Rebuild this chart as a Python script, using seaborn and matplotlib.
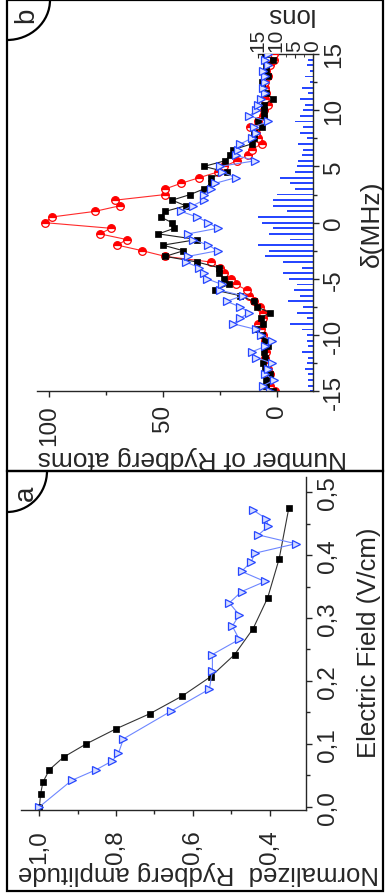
import matplotlib
matplotlib.use('Agg')
import matplotlib.pyplot as plt
import seaborn as sns
from matplotlib import font_manager
from matplotlib.patches import Rectangle, Arc

# (a) Rydberg amplitude vs electric field
field_sq = [0.0, 0.02, 0.039, 0.059, 0.079, 0.100, 0.124, 0.148, 0.176, 0.207,
            0.242, 0.283, 0.332, 0.394, 0.474]
amp_sq = [1.0, 0.997, 0.991, 0.974, 0.937, 0.878, 0.800, 0.712, 0.628, 0.553,
          0.491, 0.443, 0.405, 0.375, 0.350]
field_tri = [0.0, 0.042, 0.059, 0.073, 0.085, 0.108, 0.152, 0.187, 0.216, 0.242,
             0.266, 0.287, 0.305, 0.324, 0.342, 0.358, 0.374, 0.389, 0.403, 0.418,
             0.432, 0.446, 0.458, 0.471]
amp_tri = [1.0, 0.916, 0.852, 0.810, 0.794, 0.781, 0.657, 0.557, 0.549, 0.549,
           0.479, 0.497, 0.479, 0.505, 0.473, 0.412, 0.473, 0.448, 0.438, 0.332,
           0.429, 0.403, 0.409, 0.442]
amp_ticks = [1.0, 0.8, 0.6, 0.4]
amp_labels = ['1,0', '0,8', '0,6', '0,4']
field_ticks = [0.0, 0.1, 0.2, 0.3, 0.4, 0.5]
field_labels = ['0,0', '0,1', '0,2', '0,3', '0,4', '0,5']

# (b) spectra vs detuning
delta = [-15.0, -14.5, -14.0, -13.5, -13.0, -12.5, -12.0, -11.5, -11.0, -10.5,
         -10.0, -9.5, -9.0, -8.5, -8.0, -7.5, -7.0, -6.5, -6.0, -5.5,
         -5.0, -4.5, -4.0, -3.5, -3.0, -2.5, -2.0, -1.5, -1.0, -0.5,
         0.0, 0.5, 1.0, 1.5, 2.0, 2.5, 3.0, 3.5, 4.0, 4.5,
         5.0, 5.5, 6.0, 6.5, 7.0, 7.5, 8.0, 8.5, 9.0, 9.5,
         10.0, 10.5, 11.0, 11.5, 12.0, 12.5, 13.0, 13.5, 14.0, 14.5, 15.0]
black_n = [1.5, 4.5, 4.5, 3.0, 5.0, 6.0, 5.0, 5.5, 4.0, 5.0,
           6.5, 9.0, 6.0, 7.0, 3.0, 8.5, 10.0, 16.0, 27.0, 21.0,
           23.0, 25.5, 25.5, 35.0, 49.0, 41.0, 50.0, 35.0, 52.0, 45.0,
           46.0, 51.0, 49.0, 40.0, 46.0, 38.0, 32.0, 29.0, 29.0, 22.0,
           32.0, 22.7, 20.5, 19.0, 11.0, 10.0, 10.0, 6.5, 8.0, 5.5,
           5.5, 5.5, 1.5, 4.5, 6.5, 6.5, 3.7, 4.5, 4.5, 1.8, 5.0]
red_n = [0.5, 3.0, 3.5, 3.0, 4.0, 5.0, 5.0, 4.5, 5.0, 5.0,
         6.0, 7.0, 8.0, 6.0, 6.0, 7.5, 10.0, 12.0, 13.0, 18.0,
         20.0, 23.0, 25.0, 29.0, 49.0, 59.0, 70.0, 66.0, 77.7, 73.0,
         102.0, 99.0, 80.0, 69.0, 71.0, 49.0, 49.0, 42.0, 34.0, 26.0,
         23.0, 17.6, 12.5, 11.0, 6.6, 8.0, 9.0, 11.5, 8.0, 6.0,
         5.5, 4.0, 5.0, 4.5, 5.0, 5.0, 4.0, 4.5, 3.0, 1.0, 1.0]
blue_n = [3.0, 6.0, 1.0, 5.0, 4.0, 2.0, 9.0, 11.0, 5.0, 2.0,
          7.0, 9.0, 19.0, 16.0, 12.0, 16.0, 22.0, 15.0, 25.0, 24.0,
          30.6, 32.0, 34.0, 40.0, 39.0, 26.0, 30.0, 37.0, 39.0, 26.0,
          30.0, 35.0, 42.0, 37.0, 32.0, 32.0, 29.0, 27.0, 18.0, 24.0,
          25.0, 9.5, 18.0, 17.0, 16.0, 11.0, 9.0, 10.0, 4.0, 12.0,
          9.0, 8.0, 7.0, 5.0, 6.0, 5.0, 5.0, 6.0, 4.0, 5.0, 4.0]
ions = [0.9, 1.3, 1.3, 1.3, 2.2, 1.7, 1.3, 3.1, 1.3, 1.7,
        1.7, 3.1, 6.2, 1.7, 4.4, 2.6, 6.7, 3.5, 5.3, 4.4,
        6.5, 8.1, 3.1, 8.1, 13.1, 11.9, 14.9, 6.4, 11.9, 10.8,
        14.0, 14.9, 7.2, 11.0, 11.0, 9.9, 5.0, 6.4, 9.0, 5.0,
        4.4, 4.0, 3.1, 2.6, 4.0, 1.7, 3.5, 2.6, 4.9, 3.5,
        2.6, 2.2, 3.5, 1.3, 3.1, 0.8, 2.2, 0.8, 1.7, 1.3, 0.8]

sns.set_style('white')
plt.rcParams['font.family'] = ['Liberation Sans', 'DejaVu Sans']
plt.rcParams['axes.unicode_minus'] = False
names = {f.name for f in font_manager.fontManager.ttflist}
tick_font = 'Liberation Sans Narrow' if 'Liberation Sans Narrow' in names else 'Liberation Sans'

W, H = 389, 895
fig = plt.figure(figsize=(W / 100, H / 100), dpi=100)
BLUE = '#2747ff'
LBLUE = '#6d86ff'
TICK_FS = 17.5


def box(x0, y0, x1, y1):
    # pixel box (top-left origin) -> figure fraction
    return [x0 / W, 1 - y1 / H, (x1 - x0) / W, (y1 - y0) / H]


# ---------- panel (a) ----------
ax_a = fig.add_axes(box(21, 478, 306, 811))
sns.lineplot(x=amp_sq, y=field_sq, ax=ax_a, orient='y', sort=False, estimator=None,
             color='#333333', lw=0.8, marker='s', ms=5, mec='k', mfc='k', mew=0.5)
sns.lineplot(x=amp_tri, y=field_tri, ax=ax_a, orient='y', sort=False, estimator=None,
             color=LBLUE, lw=0.8, marker='>', ms=6, mec=BLUE, mfc='#d5dcff', mew=0.9)
ax_a.set_xlim(1.048, 0.305)
ax_a.set_ylim(-0.005, 0.524)
ax_a.set_xticks(amp_ticks, amp_labels)
ax_a.set_xticks([0.9, 0.7, 0.5], minor=True)
ax_a.set_yticks(field_ticks, field_labels)
ax_a.set_yticks([0.05, 0.15, 0.25, 0.35, 0.45], minor=True)
ax_a.yaxis.tick_right()
for s in ['top', 'left']:
    ax_a.spines[s].set_visible(False)
for s in ['bottom', 'right']:
    ax_a.spines[s].set_linewidth(1.0)
ax_a.tick_params(axis='x', which='both', bottom=True, direction='out', width=1.0,
                 labelrotation=90, pad=10, labelsize=TICK_FS, labelfontfamily=tick_font)
ax_a.tick_params(axis='y', which='both', right=True, left=False, direction='out', width=1.0,
                 labelrotation=90, pad=4, labelsize=TICK_FS, labelfontfamily=tick_font)
ax_a.tick_params(which='major', length=4)
ax_a.tick_params(which='minor', length=3)
plt.setp(ax_a.get_yticklabels(), va='center')
ax_a.set_xlabel('Normalized  Rydberg amplitude', rotation=180, fontsize=18.5,
                ha='center', va='center')
ax_a.xaxis.set_label_coords(0.621, -0.186)
ax_a.yaxis.set_label_position('right')
ax_a.set_ylabel('Electric Field (V/cm)', rotation=90, fontsize=18.5, ha='center', va='center')
ax_a.yaxis.set_label_coords(1.221, 0.5045)

# ---------- panel (b) ----------
ax_i = fig.add_axes(box(258, 55, 313, 392.3))
ax_i.barh(delta, ions, height=0.17, color=BLUE, lw=0)
ax_i.set_xlim(15, 0)
ax_i.set_ylim(-15, 15)
ax_i.patch.set_alpha(0)
for s in ['bottom', 'left', 'right']:
    ax_i.spines[s].set_visible(False)
ax_i.spines['top'].set_linewidth(1.0)
ax_i.set_yticks([])
ax_i.set_xticks([0, 5, 10, 15])
ax_i.set_xticks([2.5, 7.5, 12.5], minor=True)
ax_i.tick_params(axis='x', which='both', top=True, bottom=False, labeltop=True,
                 labelbottom=False, direction='in', labelrotation=90, pad=2,
                 labelsize=15, labelfontfamily=tick_font)
ax_i.tick_params(which='major', length=3)
ax_i.tick_params(which='minor', length=2)
ax_i.xaxis.set_label_position('top')
ax_i.set_xlabel('Ions', rotation=180, fontsize=18.5, ha='center', va='center')
ax_i.xaxis.set_label_coords(0.545, 1.1186)

ax_b = fig.add_axes(box(37, 55, 313, 392.3))
ax_b.patch.set_alpha(0)
sns.lineplot(x=red_n, y=delta, ax=ax_b, orient='y', sort=False, estimator=None,
             color='#ff2a2a', lw=0.8, marker='o', ms=5.5, mec='#ff0000', mfc='#ff0000',
             fillstyle='top', markerfacecoloralt='white', mew=0.9)
sns.lineplot(x=black_n, y=delta, ax=ax_b, orient='y', sort=False, estimator=None,
             color='#222222', lw=0.8, marker='s', ms=4.8, mec='k', mfc='k', mew=0.5)
sns.lineplot(x=blue_n, y=delta, ax=ax_b, orient='y', sort=False, estimator=None,
             color=LBLUE, lw=0.8, marker='>', ms=5.5, mec=BLUE, mfc='#dde3ff', mew=0.9)
ax_b.set_xlim(105.4, -16.0)
ax_b.set_ylim(-15, 15)
ax_b.set_xticks([100, 50, 0], ['100', '50', '0'])
ax_b.set_xticks([75, 25], minor=True)
ax_b.set_yticks([-15, -10, -5, 0, 5, 10, 15])
ax_b.set_yticks([-12.5, -7.5, -2.5, 2.5, 7.5, 12.5], minor=True)
ax_b.yaxis.tick_right()
for s in ['top', 'left']:
    ax_b.spines[s].set_visible(False)
for s in ['bottom', 'right']:
    ax_b.spines[s].set_linewidth(1.0)
ax_b.tick_params(axis='x', which='both', bottom=True, direction='out', width=1.0,
                 labelrotation=90, pad=5, labelsize=TICK_FS, labelfontfamily=tick_font)
ax_b.tick_params(axis='y', which='both', right=True, left=False, direction='out', width=1.0,
                 labelrotation=90, pad=3, labelsize=TICK_FS, labelfontfamily=tick_font)
ax_b.tick_params(which='major', length=4)
ax_b.tick_params(which='minor', length=3)
plt.setp(ax_b.get_yticklabels(), va='center')
ax_b.set_xlabel('Number of Rydberg atoms', rotation=180, fontsize=19, ha='center', va='center')
ax_b.xaxis.set_label_coords(0.5616, -0.195)
ax_b.yaxis.set_label_position('right')
ax_b.set_ylabel('δ(MHz)', rotation=90, fontsize=19, ha='center', va='center')
ax_b.yaxis.set_label_coords(1.214, 0.499)

# panel frames and corner tags
for (y0, y1, rx, ry, ly, tag) in [(1, 472, 43, 40, 15, 'b'), (472, 892, 40, 41, 493, 'a')]:
    fig.add_artist(Rectangle((7 / W, 1 - y1 / H), 376 / W, (y1 - y0) / H,
                             transform=fig.transFigure, fill=False, lw=1.6, ec='k'))
    fig.add_artist(Arc((7 / W, 1 - y0 / H), 2 * rx / W, 2 * ry / H, theta1=270, theta2=360,
                       transform=fig.transFigure, lw=1.6, color='k'))
    fig.text(26 / W, 1 - ly / H, tag, rotation=90, ha='center', va='center', fontsize=20)

fig.savefig('out.png', dpi=100, facecolor='white')
